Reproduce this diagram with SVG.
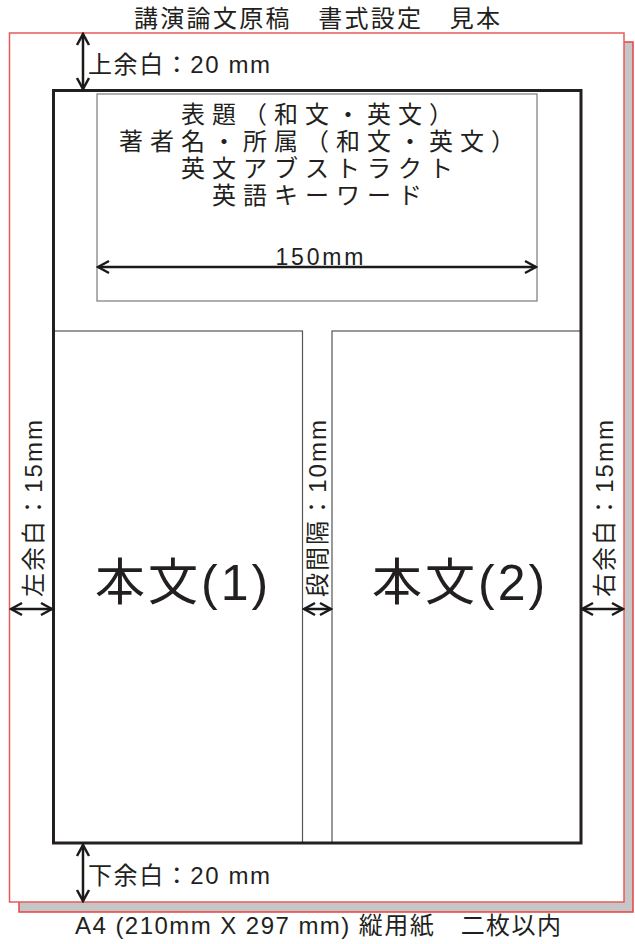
<svg xmlns="http://www.w3.org/2000/svg" width="635" height="944" viewBox="0 0 635 944">
<style>
.t{font-family:"Liberation Sans","Noto Sans CJK JP",sans-serif;fill:#231f20}
.arr{stroke:#1a1a1a;stroke-width:2.5;fill:none;marker-start:url(#ah);marker-end:url(#ah)}
.thin{fill:none;stroke:#555;stroke-width:1.2}
</style>
<defs>
<marker id="ah" markerUnits="userSpaceOnUse" viewBox="-14 -8 16 16" refX="0" refY="0" markerWidth="16" markerHeight="16" orient="auto-start-reverse">
<path d="M-11,-6 L0,0 L-11,6" fill="none" stroke="#1a1a1a" stroke-width="2.5"/>
</marker>
</defs>
<rect width="635" height="944" fill="#fff"/>
<g id="page">
<rect x="19" y="42" width="614" height="870" fill="#c6c6c6" stroke="#e84040" stroke-width="1.5"/>
<rect x="9.5" y="33" width="614.5" height="869" fill="#fff" stroke="#e85a5a" stroke-width="1.5"/>
</g>
<text id="title" class="t" x="134" y="27" font-size="24" textLength="366" lengthAdjust="spacing">講演論文原稿　書式設定　見本</text>
<g id="col1">
<rect class="thin" x="53.5" y="331" width="249" height="512"/>
<text class="t" x="95" y="600" font-size="50" letter-spacing="3">本文(1)</text>
</g>
<g id="col2">
<rect class="thin" x="332" y="331" width="249" height="512"/>
<text class="t" x="372" y="600" font-size="50" letter-spacing="3">本文(2)</text>
</g>
<g id="body">
<rect x="53.5" y="90.5" width="527.5" height="752.5" fill="none" stroke="#231f20" stroke-width="3"/>
</g>
<g id="header">
<rect x="97" y="94" width="440" height="207" fill="none" stroke="#7a7a7a" stroke-width="1.2"/>
<g class="t" font-size="24" letter-spacing="7" text-anchor="middle">
<text x="320.5" y="123">表題（和文・英文）</text>
<text x="320.5" y="150">著者名・所属（和文・英文）</text>
<text x="320.5" y="177">英文アブストラクト</text>
<text x="320.5" y="204">英語キーワード</text>
</g>
<text class="t" x="319.5" y="265" font-size="23" text-anchor="middle" textLength="88" lengthAdjust="spacing">150mm</text>
</g>
<g id="connectors">
<path class="arr" d="M83,34 V89"/>
<path class="arr" d="M83,845 V901"/>
<path class="arr" d="M98,267 H536"/>
<path class="arr" d="M11,609 H52"/>
<path class="arr" d="M304,609 H331"/>
<path class="arr" d="M582,609 H623"/>
</g>
<g id="labels" class="t">
<text x="88" y="73" font-size="24" textLength="182" lengthAdjust="spacing">上余白：20 mm</text>
<text x="88" y="884" font-size="24" textLength="182" lengthAdjust="spacing">下余白：20 mm</text>
<text transform="translate(42,597) rotate(-90)" font-size="24" textLength="177" lengthAdjust="spacing">左余白：15mm</text>
<text transform="translate(326,597) rotate(-90)" font-size="24" textLength="177" lengthAdjust="spacing">段間隔：10mm</text>
<text transform="translate(612.5,597) rotate(-90)" font-size="24" textLength="177" lengthAdjust="spacing">右余白：15mm</text>
<text x="75" y="934" font-size="24" textLength="486" lengthAdjust="spacing">A4 (210mm X 297 mm) 縦用紙　二枚以内</text>
</g>
</svg>
